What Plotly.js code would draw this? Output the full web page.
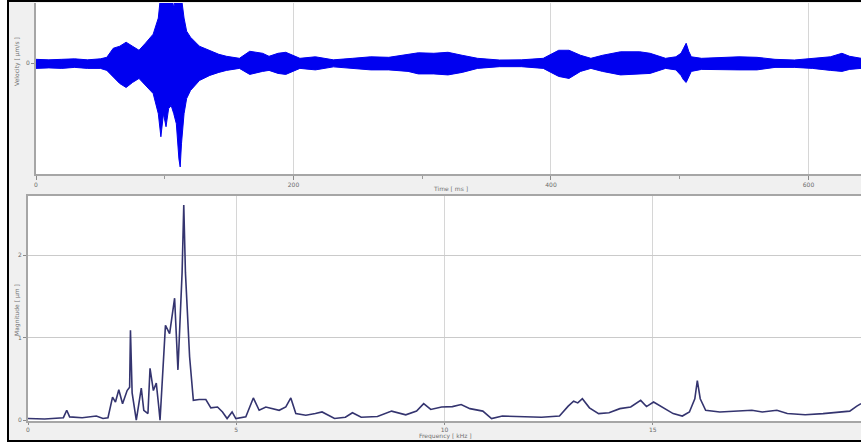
<!DOCTYPE html>
<html>
<head>
<meta charset="utf-8">
<script src="https://cdn.plot.ly/plotly-3.0.1.min.js"></script>
<style>
  html, body { margin:0; padding:0; background:#ffffff; }
  #wrap { position:relative; width:861px; height:442px; overflow:hidden; }
  #chart { position:absolute; left:0; top:0; width:861px; height:442px; }
  #leftwhite { position:absolute; left:0; top:0; width:7px; height:442px; background:#ffffff; pointer-events:none; }
  #frame { position:absolute; left:7px; top:0; width:860px; height:438px; border-left:2px solid #000; border-top:2px solid #000; border-bottom:2px solid #000; pointer-events:none; }
</style>
</head>
<body>
<div id="wrap">
  <div id="chart"></div>
  <div id="leftwhite"></div>
  <div id="frame"></div>
</div>
<script>
// ---- Top panel: velocity waveform envelope ----
const timeMs = [0,10,20,30,40,50,55,60,65,70,75,80,85,91,95,97,99,101,103,105,107,109,111,112,113,115,117,120,127,135,142,148,158,166,176,181,188,194,205,217,231,246,260,274,289,297,309,320,331,343,360,377,394,400,406,414,423,431,440,454,469,477,489,497,501,503,505,507,509,517,531,546,560,574,589,603,617,626,632,641];
const velUpper = [0.04,0.035,0.04,0.045,0.035,0.045,0.06,0.15,0.17,0.21,0.17,0.13,0.2,0.29,0.45,0.7,0.65,0.7,0.62,0.7,0.55,0.7,0.7,0.6,0.65,0.45,0.32,0.26,0.17,0.13,0.09,0.07,0.05,0.12,0.1,0.07,0.1,0.11,0.05,0.065,0.035,0.05,0.065,0.06,0.09,0.105,0.1,0.11,0.08,0.05,0.033,0.035,0.05,0.09,0.13,0.13,0.08,0.05,0.08,0.115,0.115,0.1,0.05,0.065,0.1,0.15,0.2,0.12,0.065,0.05,0.06,0.065,0.06,0.04,0.033,0.05,0.065,0.1,0.07,0.05];
const velLower = [-0.05,-0.045,-0.05,-0.04,-0.05,-0.05,-0.07,-0.14,-0.2,-0.24,-0.19,-0.15,-0.22,-0.3,-0.5,-0.73,-0.5,-0.63,-0.45,-0.42,-0.5,-0.6,-0.95,-1.03,-0.8,-0.5,-0.35,-0.27,-0.17,-0.12,-0.09,-0.07,-0.05,-0.11,-0.08,-0.07,-0.1,-0.11,-0.05,-0.065,-0.035,-0.05,-0.065,-0.065,-0.08,-0.105,-0.105,-0.115,-0.09,-0.05,-0.033,-0.033,-0.05,-0.09,-0.13,-0.15,-0.08,-0.05,-0.08,-0.115,-0.105,-0.1,-0.05,-0.065,-0.12,-0.165,-0.19,-0.13,-0.08,-0.06,-0.065,-0.065,-0.065,-0.04,-0.04,-0.05,-0.07,-0.08,-0.06,-0.05];
const timeTicks = [0,200,400,600];

// ---- Bottom panel: magnitude spectrum ----
const freqKHz = [0,0.4,0.85,0.93,1.0,1.3,1.64,1.8,1.92,2.03,2.1,2.18,2.27,2.38,2.44,2.46,2.5,2.6,2.72,2.78,2.88,2.93,3.01,3.08,3.14,3.17,3.30,3.40,3.52,3.6,3.7,3.74,3.78,3.88,3.97,4.11,4.27,4.39,4.55,4.67,4.78,4.9,4.99,5.23,5.41,5.55,5.71,5.86,6.03,6.19,6.31,6.43,6.67,6.9,7.06,7.36,7.62,7.79,8.0,8.39,8.73,9.07,9.33,9.5,9.67,9.93,10.19,10.4,10.61,10.92,11.13,11.39,11.81,12.33,12.76,12.97,13.1,13.2,13.31,13.48,13.7,13.95,14.21,14.47,14.71,14.85,15.02,15.24,15.49,15.71,15.88,16.01,16.07,16.14,16.27,16.61,17.04,17.38,17.63,17.98,18.23,18.66,19.09,19.43,19.73,19.9,20];
const magnitude = [0.02,0.015,0.03,0.12,0.04,0.03,0.05,0.02,0.03,0.28,0.22,0.37,0.2,0.36,0.4,1.09,0.33,0.0,0.39,0.12,0.08,0.63,0.36,0.45,0.16,0.0,1.15,1.05,1.48,0.61,1.79,2.61,1.79,0.77,0.24,0.25,0.25,0.15,0.16,0.1,0.02,0.1,0.02,0.04,0.27,0.12,0.16,0.14,0.12,0.16,0.27,0.08,0.06,0.08,0.10,0.02,0.035,0.09,0.035,0.045,0.11,0.065,0.11,0.2,0.13,0.16,0.165,0.19,0.14,0.11,0.02,0.05,0.045,0.035,0.05,0.17,0.23,0.21,0.26,0.15,0.08,0.09,0.14,0.16,0.24,0.165,0.22,0.15,0.08,0.05,0.1,0.26,0.48,0.26,0.12,0.1,0.11,0.12,0.1,0.12,0.08,0.065,0.08,0.1,0.11,0.17,0.2];
const freqTicks = [0,5,10,15,20];
const magTicks = [0,1,2];

const W = 861, H = 442;
const px = v => v / W;
const py = v => 1 - v / H;

const blue = '#0000f0';
const traces = [
  { x: timeMs, y: velLower, xaxis:'x', yaxis:'y', type:'scatter', mode:'lines',
    line:{color:blue, width:1}, hoverinfo:'skip', showlegend:false },
  { x: timeMs, y: velUpper, xaxis:'x', yaxis:'y', type:'scatter', mode:'lines',
    fill:'tonexty', fillcolor:blue, line:{color:blue, width:1}, hoverinfo:'skip', showlegend:false },
  { x: freqKHz, y: magnitude, xaxis:'x2', yaxis:'y2', type:'scatter', mode:'lines',
    line:{color:'#34346f', width:1.6}, hoverinfo:'skip', showlegend:false }
];

const tickFont = {family:'DejaVu Sans, sans-serif', size:6, color:'#6a6a6a'};
const titleFont = {family:'DejaVu Sans, sans-serif', size:6, color:'#707070'};
const axisLine = '#a6a6a6';
const gridCol = '#d6d6d6';

const layout = {
  width: W, height: H,
  margin: {l:0, r:0, t:0, b:0, pad:0},
  paper_bgcolor: '#f0f0f0',
  plot_bgcolor: '#ffffff',
  showlegend: false,
  font: tickFont,
  xaxis: {
    domain:[px(36), 1], anchor:'y', range:[0, 640.8],
    tickvals: timeTicks, ticktext: timeTicks.map(String),
    ticks:'outside', ticklen:4, tickcolor:'#8a8a8a', tickfont: tickFont,
    minor: {dtick:100, tick0:0, ticks:'outside', ticklen:3, tickcolor:'#9a9a9a', showgrid:false},
    showgrid:true, gridcolor:gridCol, gridwidth:1,
    showline:true, linecolor:axisLine, linewidth:2, zeroline:false
  },
  yaxis: {
    domain:[py(174), py(3)], anchor:'x', range:[-1.1, 0.6],
    tickvals:[0], ticktext:['0'], ticks:'outside', ticklen:3, tickcolor:'#8a8a8a', tickfont: tickFont,
    showgrid:false, showline:true, linecolor:axisLine, linewidth:2, zeroline:false
  },
  xaxis2: {
    domain:[px(28), 1], anchor:'y2', range:[0, 20],
    tickvals: freqTicks, ticktext: freqTicks.map(String),
    ticks:'outside', ticklen:2, tickcolor:'#8a8a8a', tickfont: tickFont,
    showgrid:true, gridcolor:gridCol, gridwidth:1,
    showline:true, mirror:true, linecolor:axisLine, linewidth:2, zeroline:false
  },
  yaxis2: {
    domain:[py(421), py(196)], anchor:'x2', range:[-0.01, 2.72],
    tickvals: magTicks, ticktext: magTicks.map(String),
    ticks:'outside', ticklen:3, tickcolor:'#8a8a8a', tickfont: tickFont,
    showgrid:true, gridcolor:'#cacaca', gridwidth:1,
    showline:true, linecolor:axisLine, linewidth:2, zeroline:false
  },
  annotations: [
    {text:'Time [ ms ]', xref:'paper', yref:'paper', x:px(450), y:py(188), showarrow:false,
     font:titleFont, xanchor:'center', yanchor:'middle'},
    {text:'Frequency [ kHz ]', xref:'paper', yref:'paper', x:px(445), y:py(436), showarrow:false,
     font:titleFont, xanchor:'center', yanchor:'middle'},
    {text:'Velocity [ µm/s ]', xref:'paper', yref:'paper', x:px(17), y:py(62), showarrow:false, textangle:-90,
     font:titleFont, xanchor:'center', yanchor:'middle'},
    {text:'Magnitude [ µm ]', xref:'paper', yref:'paper', x:px(17), y:py(310), showarrow:false, textangle:-90,
     font:titleFont, xanchor:'center', yanchor:'middle'}
  ]
};

Plotly.newPlot('chart', traces, layout, {staticPlot:true, displayModeBar:false});
</script>
</body>
</html>
